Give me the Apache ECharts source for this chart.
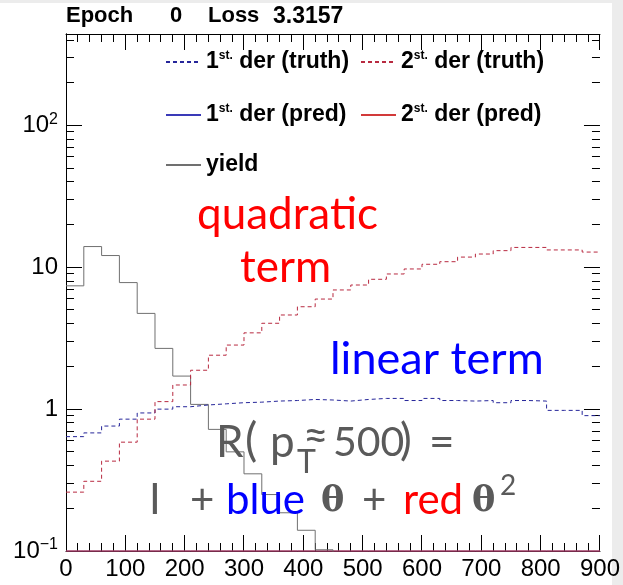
<!DOCTYPE html>
<html>
<head>
<meta charset="utf-8">
<script src="https://cdn.jsdelivr.net/npm/echarts@6/dist/echarts.min.js"></script>
<style>
  html, body { margin: 0; padding: 0; background: #fff; }
  #chart { width: 623px; height: 585px; }
</style>
</head>
<body>
<div id="chart"></div>
<script>
// 30 bins of 30 GeV from 0 to 900
const binWidth = 30;
const xMin = 0, xMax = 900;

// bin contents (values under 0.1 fall below the frame)
const yieldVals = [7.4, 14.0, 12.1, 7.8, 4.73, 2.68, 1.71, 1.08, 0.72, 0.50,
                   0.35, 0.25, 0.186, 0.14, 0.102, 0.07, 0.05, 0.04, 0.03, 0.02,
                   0.015, 0.01, 0.008, 0.006, 0.005, 0.004, 0.003, 0.002, 0.002, 0.001];
const der1Truth = [0.64, 0.68, 0.76, 0.85, 0.94, 1.0, 1.04, 1.07, 1.09, 1.11,
                   1.12, 1.14, 1.15, 1.17, 1.16, 1.14, 1.17, 1.19, 1.19, 1.15,
                   1.19, 1.15, 1.14, 1.15, 1.11, 1.15, 1.14, 0.98, 0.98, 0.9];
const der2Truth = [0.26, 0.31, 0.43, 0.585, 0.85, 1.13, 1.48, 1.88, 2.4, 2.83,
                   3.45, 4.03, 4.61, 5.27, 5.97, 6.92, 7.5, 8.23, 8.97, 9.73,
                   10.5, 10.95, 11.8, 12.4, 13.1, 13.8, 13.8, 13.25, 13.25, 12.8];
// predictions sit on the lower edge of the frame at epoch 0
const der1Pred = [0.1, 0.1, 0.1, 0.1, 0.1, 0.1, 0.1, 0.1, 0.1, 0.1,
                  0.1, 0.1, 0.1, 0.1, 0.1, 0.1, 0.1, 0.1, 0.1, 0.1,
                  0.1, 0.1, 0.1, 0.1, 0.1, 0.1, 0.1, 0.1, 0.1, 0.1];
const der2Pred = [0.1, 0.1, 0.1, 0.1, 0.1, 0.1, 0.1, 0.1, 0.1, 0.1,
                  0.1, 0.1, 0.1, 0.1, 0.1, 0.1, 0.1, 0.1, 0.1, 0.1,
                  0.1, 0.1, 0.1, 0.1, 0.1, 0.1, 0.1, 0.1, 0.1, 0.1];

const yMin = 0.1, yMax = 441;
const yMajorTicks = [0.1, 1, 10, 100];
const yMinorTicks = [0.2, 0.3, 0.4, 0.5, 0.6, 0.7, 0.8, 0.9,
                     2, 3, 4, 5, 6, 7, 8, 9,
                     20, 30, 40, 50, 60, 70, 80, 90,
                     200, 300, 400];
const xMajorTicks = [0, 100, 200, 300, 400, 500, 600, 700, 800, 900];
const xMinorStep = 20;

const names = ['1st. der (truth)', '2st. der (truth)', '1st. der (pred)', '2st. der (pred)', 'yield'];

function histPoints(vals) {
  const pts = vals.map((v, i) => [xMin + i * binWidth, v]);
  pts.push([xMin + vals.length * binWidth, vals[vals.length - 1]]);
  return pts;
}

// tick marks: [x, y, axis (0 = x, 1 = y), length]
const tickData = [];
xMajorTicks.forEach((t, i) => {
  tickData.push([t, yMin, 0, 16]);
  if (i < xMajorTicks.length - 1) {
    for (let m = t + xMinorStep; m < xMajorTicks[i + 1]; m += xMinorStep) tickData.push([m, yMin, 0, 8]);
  }
});
yMajorTicks.forEach(t => tickData.push([xMin, t, 1, 16]));
yMinorTicks.forEach(t => tickData.push([xMin, t, 1, 8]));

const axisBlack = { lineStyle: { color: '#000', width: 1 } };
const helv = 'Liberation Sans, Arial, sans-serif';

function xAxisDef(pos, labels) {
  return {
    type: 'value', position: pos, min: xMin, max: xMax, interval: 100,
    axisLine: { show: true, onZero: false, ...axisBlack },
    axisTick: { show: false },
    minorTick: { show: false },
    splitLine: { show: false },
    axisLabel: { show: labels, color: '#000', fontFamily: helv, fontSize: 24, margin: 6 }
  };
}

function yAxisDef(pos, labels) {
  return {
    type: 'log', logBase: 10, position: pos, min: yMin, max: yMax,
    axisLine: { show: true, ...axisBlack },
    axisTick: { show: false },
    splitLine: { show: false },
    axisLabel: {
      show: labels, customValues: yMajorTicks, color: '#000', fontFamily: helv, fontSize: 24, margin: 8,
      lineHeight: 28,
      formatter: v => {
        const e = Math.round(Math.log10(v));
        if (e === 0) return '1';
        if (e === 1) return '10';
        return '10{sup|' + (e < 0 ? '\u2212' + (-e) : e) + '}';
      },
      rich: { sup: { fontSize: 16, fontFamily: helv, color: '#000', verticalAlign: 'top', lineHeight: 14 } }
    }
  };
}

function histSeries(name, vals, color, dashed, clip) {
  return {
    name, type: 'line', step: 'end', data: histPoints(vals), symbol: 'none',
    clip: clip, z: 3,
    itemStyle: { color },
    lineStyle: { color, width: 1, type: dashed ? [4, 3] : 'solid' }
  };
}

function crisp(v) { return Math.round(v - 0.5) + 0.5; }

function renderTick(params, api) {
  const cs = params.coordSys;
  const p = api.coord([api.value(0), api.value(1)]);
  const len = api.value(3);
  const st = { stroke: '#000', lineWidth: 1 };
  let a, b;
  if (api.value(2) === 0) {
    const x = crisp(p[0]);
    a = { x1: x, y1: cs.y + cs.height, x2: x, y2: cs.y + cs.height - len };
    b = { x1: x, y1: cs.y, x2: x, y2: cs.y + len };
  } else {
    const y = crisp(p[1]);
    a = { x1: cs.x, y1: y, x2: cs.x + len, y2: y };
    b = { x1: cs.x + cs.width, y1: y, x2: cs.x + cs.width - len, y2: y };
  }
  return { type: 'group', children: [
    { type: 'line', shape: a, style: st },
    { type: 'line', shape: b, style: st }
  ] };
}

function legendItem(name, left, top) {
  return {
    data: [name], left, top, padding: 0, itemWidth: 35, itemHeight: 14,
    selectedMode: false,
    itemStyle: { opacity: 0, borderWidth: 0 },
    formatter: n => n.replace(/^(\d)st\. /, '$1{sup|st.} '),
    textStyle: {
      fontFamily: helv, fontWeight: 'bold', fontSize: 23, color: '#000', lineHeight: 24,
      rich: { sup: { fontFamily: helv, fontWeight: 'bold', fontSize: 12, color: '#000', verticalAlign: 'top', lineHeight: 13 } }
    }
  };
}

function note(x, y, text, size, color, family, weight) {
  return {
    type: 'text', x, y, z: 10,
    style: {
      text, fill: color, font: (weight || 'normal') + ' ' + size + 'px ' + (family || 'Lato'),
      textAlign: 'left', textVerticalAlign: 'middle', verticalAlign: 'middle'
    }
  };
}

const gray = '#5a5a5a';
const red = '#ff0000';
const blue = '#0000ff';
const serif = '"DejaVu Serif", "Liberation Serif", serif';
const titleFont = { fontFamily: helv, fontWeight: 'bold', fontSize: 22, color: '#000' };

const chart = echarts.init(document.getElementById('chart'));
chart.setOption({
  animation: false,
  backgroundColor: '#fff',
  title: [
    { text: 'Epoch', left: 66, top: 5, padding: 0, textStyle: titleFont },
    { text: '0', left: 170, top: 5, padding: 0, textStyle: titleFont },
    { text: 'Loss', left: 208, top: 5, padding: 0, textStyle: titleFont },
    { text: '3.3157', left: 273, top: 5, padding: 0, textStyle: { ...titleFont, fontSize: 23 } }
  ],
  grid: { left: 66, right: 18, top: 34, bottom: 34 },
  xAxis: [xAxisDef('bottom', true), xAxisDef('top', false)],
  yAxis: [yAxisDef('left', true), yAxisDef('right', false)],
  legend: [
    legendItem(names[0], 165, 50),
    legendItem(names[1], 360, 50),
    legendItem(names[2], 165, 103),
    legendItem(names[3], 360, 103),
    legendItem(names[4], 165, 153)
  ],
  series: [
    { type: 'custom', name: 'ticks', data: tickData, encode: { x: 0, y: 1 },
      renderItem: renderTick, clip: false, silent: true, z: 1 },
    histSeries(names[2], der1Pred, '#3a3ab8', false, false),
    histSeries(names[3], der2Pred, '#d23a3a', false, false),
    histSeries(names[4], yieldVals, '#707070', false, true),
    histSeries(names[0], der1Truth, '#26269a', true, true),
    histSeries(names[1], der2Truth, '#b82a40', true, true)
  ],
  graphic: [
    { type: 'rect', z: -1, shape: { x: 612, y: 0, width: 11, height: 585 }, style: { fill: '#ececec' } },
    { type: 'rect', z: -1, shape: { x: 0, y: 0, width: 623, height: 3 }, style: { fill: '#ececec' } },
    note(197, 215, 'quadratic', 44, red),
    note(240, 268, 'term', 44, red),
    note(330, 359, 'linear term', 45, blue),
    note(216, 443, 'R', 44, gray),
    note(245, 441, '(', 46, gray),
    note(270, 443, 'p', 44, gray),
    note(297, 463, 'T', 32, gray),
    note(303, 437, '\u2248', 44, gray),
    note(333, 443, '500', 41, gray),
    note(400, 441, ')', 44, gray),
    note(429, 443, '=', 44, gray),
    note(149, 500, 'I', 42, gray),
    note(190, 500, '+', 42, gray),
    note(226, 500, 'blue', 42, blue),
    note(321, 502, '\u03b8', 35, gray, serif, 'bold'),
    note(362, 500, '+', 42, gray),
    note(403, 500, 'red', 42, red),
    note(472, 502, '\u03b8', 35, gray, serif, 'bold'),
    note(500, 486, '2', 28, gray)
  ]
});
</script>
</body>
</html>
